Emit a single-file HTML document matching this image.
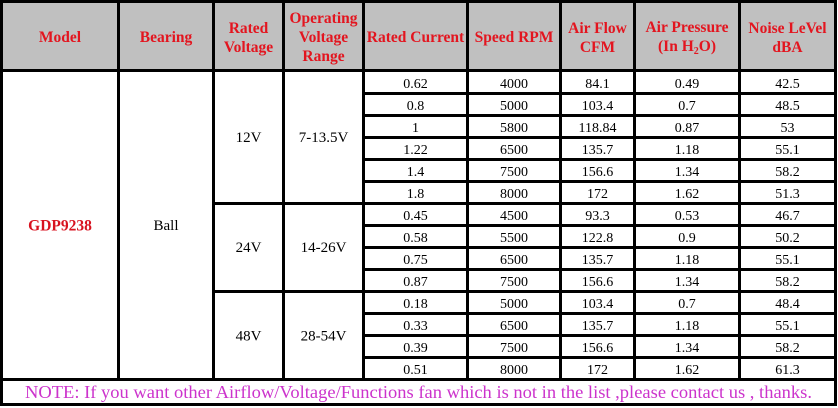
<!DOCTYPE html>
<html>
<head>
<meta charset="utf-8">
<style>
  html,body{margin:0;padding:0;background:#fff;}
  svg{display:block;}
  .h{font-family:"Liberation Serif","DejaVu Serif",serif;font-weight:bold;font-size:15.5px;fill:#e3151f;}
  .d{font-family:"Liberation Serif","DejaVu Serif",serif;font-size:14px;fill:#000;}
  .g{font-family:"Liberation Serif","DejaVu Serif",serif;font-size:15px;fill:#000;}
  .n{font-family:"Liberation Serif","DejaVu Serif",serif;font-size:18px;fill:#cc33cc;}
</style>
</head>
<body>
<svg width="838" height="408" viewBox="0 0 838 408" xmlns="http://www.w3.org/2000/svg">
  <rect x="0" y="0" width="838" height="408" fill="#fff"/>
  <rect x="0" y="0" width="837" height="70" fill="#c0c0c0"/>

  <g fill="#000">
    <rect x="0" y="0" width="837" height="3"/>
    <rect x="0" y="69" width="837" height="3"/>
    <rect x="362" y="92" width="475" height="3"/>
    <rect x="362" y="114" width="475" height="3"/>
    <rect x="362" y="136" width="475" height="3"/>
    <rect x="362" y="158" width="475" height="3"/>
    <rect x="362" y="180" width="475" height="3"/>
    <rect x="212" y="202" width="625" height="3"/>
    <rect x="362" y="224" width="475" height="3"/>
    <rect x="362" y="246" width="475" height="3"/>
    <rect x="362" y="268" width="475" height="3"/>
    <rect x="212" y="290" width="625" height="3"/>
    <rect x="362" y="312" width="475" height="3"/>
    <rect x="362" y="334" width="475" height="3"/>
    <rect x="362" y="356" width="475" height="3"/>
    <rect x="0" y="378" width="837" height="3"/>
    <rect x="0" y="403" width="837" height="3"/>
    <rect x="0" y="0" width="3" height="406"/>
    <rect x="117" y="0" width="3" height="381"/>
    <rect x="212" y="0" width="3" height="381"/>
    <rect x="282" y="0" width="3" height="381"/>
    <rect x="362" y="0" width="3" height="381"/>
    <rect x="466" y="0" width="3" height="381"/>
    <rect x="559" y="0" width="3" height="381"/>
    <rect x="633" y="0" width="3" height="381"/>
    <rect x="738" y="0" width="3" height="381"/>
    <rect x="834" y="0" width="3" height="406"/>
  </g>

  <g class="h" text-anchor="middle">
    <text x="60" y="42">Model</text>
    <text x="166" y="42">Bearing</text>
    <text x="248.5" y="33">Rated</text>
    <text x="248.5" y="52">Voltage</text>
    <text x="323.5" y="23">Operating</text>
    <text x="323.5" y="42">Voltage</text>
    <text x="323.5" y="61">Range</text>
    <text x="415.5" y="42">Rated Current</text>
    <text x="514" y="42">Speed RPM</text>
    <text x="597.5" y="33">Air Flow</text>
    <text x="597.5" y="52">CFM</text>
    <text x="687" y="32">Air Pressure</text>
    <text x="687" y="51">(In H<tspan font-size="10" dy="3">2</tspan><tspan dy="-3">O)</tspan></text>
    <text x="787.5" y="33">Noise LeVel</text>
    <text x="787.5" y="52">dBA</text>
  </g>

  <text x="60" y="230.5" class="h" text-anchor="middle" style="fill:#d8121f">GDP9238</text>
  <text x="166" y="230" class="g" text-anchor="middle">Ball</text>
  <g class="g" text-anchor="middle">
    <text x="248.5" y="142">12V</text>
    <text x="323.5" y="142">7-13.5V</text>
    <text x="248.5" y="252">24V</text>
    <text x="323.5" y="252">14-26V</text>
    <text x="248.5" y="340.5">48V</text>
    <text x="323.5" y="340.5">28-54V</text>
  </g>

  <g class="d" text-anchor="middle">
    <text x="415.5" y="88">0.62</text><text x="514" y="88">4000</text><text x="597.5" y="88">84.1</text><text x="687" y="88">0.49</text><text x="787.5" y="88">42.5</text>
    <text x="415.5" y="110">0.8</text><text x="514" y="110">5000</text><text x="597.5" y="110">103.4</text><text x="687" y="110">0.7</text><text x="787.5" y="110">48.5</text>
    <text x="415.5" y="132">1</text><text x="514" y="132">5800</text><text x="597.5" y="132">118.84</text><text x="687" y="132">0.87</text><text x="787.5" y="132">53</text>
    <text x="415.5" y="154">1.22</text><text x="514" y="154">6500</text><text x="597.5" y="154">135.7</text><text x="687" y="154">1.18</text><text x="787.5" y="154">55.1</text>
    <text x="415.5" y="176">1.4</text><text x="514" y="176">7500</text><text x="597.5" y="176">156.6</text><text x="687" y="176">1.34</text><text x="787.5" y="176">58.2</text>
    <text x="415.5" y="198">1.8</text><text x="514" y="198">8000</text><text x="597.5" y="198">172</text><text x="687" y="198">1.62</text><text x="787.5" y="198">51.3</text>
    <text x="415.5" y="220">0.45</text><text x="514" y="220">4500</text><text x="597.5" y="220">93.3</text><text x="687" y="220">0.53</text><text x="787.5" y="220">46.7</text>
    <text x="415.5" y="242">0.58</text><text x="514" y="242">5500</text><text x="597.5" y="242">122.8</text><text x="687" y="242">0.9</text><text x="787.5" y="242">50.2</text>
    <text x="415.5" y="264">0.75</text><text x="514" y="264">6500</text><text x="597.5" y="264">135.7</text><text x="687" y="264">1.18</text><text x="787.5" y="264">55.1</text>
    <text x="415.5" y="286">0.87</text><text x="514" y="286">7500</text><text x="597.5" y="286">156.6</text><text x="687" y="286">1.34</text><text x="787.5" y="286">58.2</text>
    <text x="415.5" y="308">0.18</text><text x="514" y="308">5000</text><text x="597.5" y="308">103.4</text><text x="687" y="308">0.7</text><text x="787.5" y="308">48.4</text>
    <text x="415.5" y="330">0.33</text><text x="514" y="330">6500</text><text x="597.5" y="330">135.7</text><text x="687" y="330">1.18</text><text x="787.5" y="330">55.1</text>
    <text x="415.5" y="352">0.39</text><text x="514" y="352">7500</text><text x="597.5" y="352">156.6</text><text x="687" y="352">1.34</text><text x="787.5" y="352">58.2</text>
    <text x="415.5" y="374">0.51</text><text x="514" y="374">8000</text><text x="597.5" y="374">172</text><text x="687" y="374">1.62</text><text x="787.5" y="374">61.3</text>
  </g>

  <text x="25" y="398" class="n" textLength="787" lengthAdjust="spacingAndGlyphs">NOTE: If you want other Airflow/Voltage/Functions fan which is not in the list ,please contact us , thanks.</text>
</svg>
</body>
</html>
